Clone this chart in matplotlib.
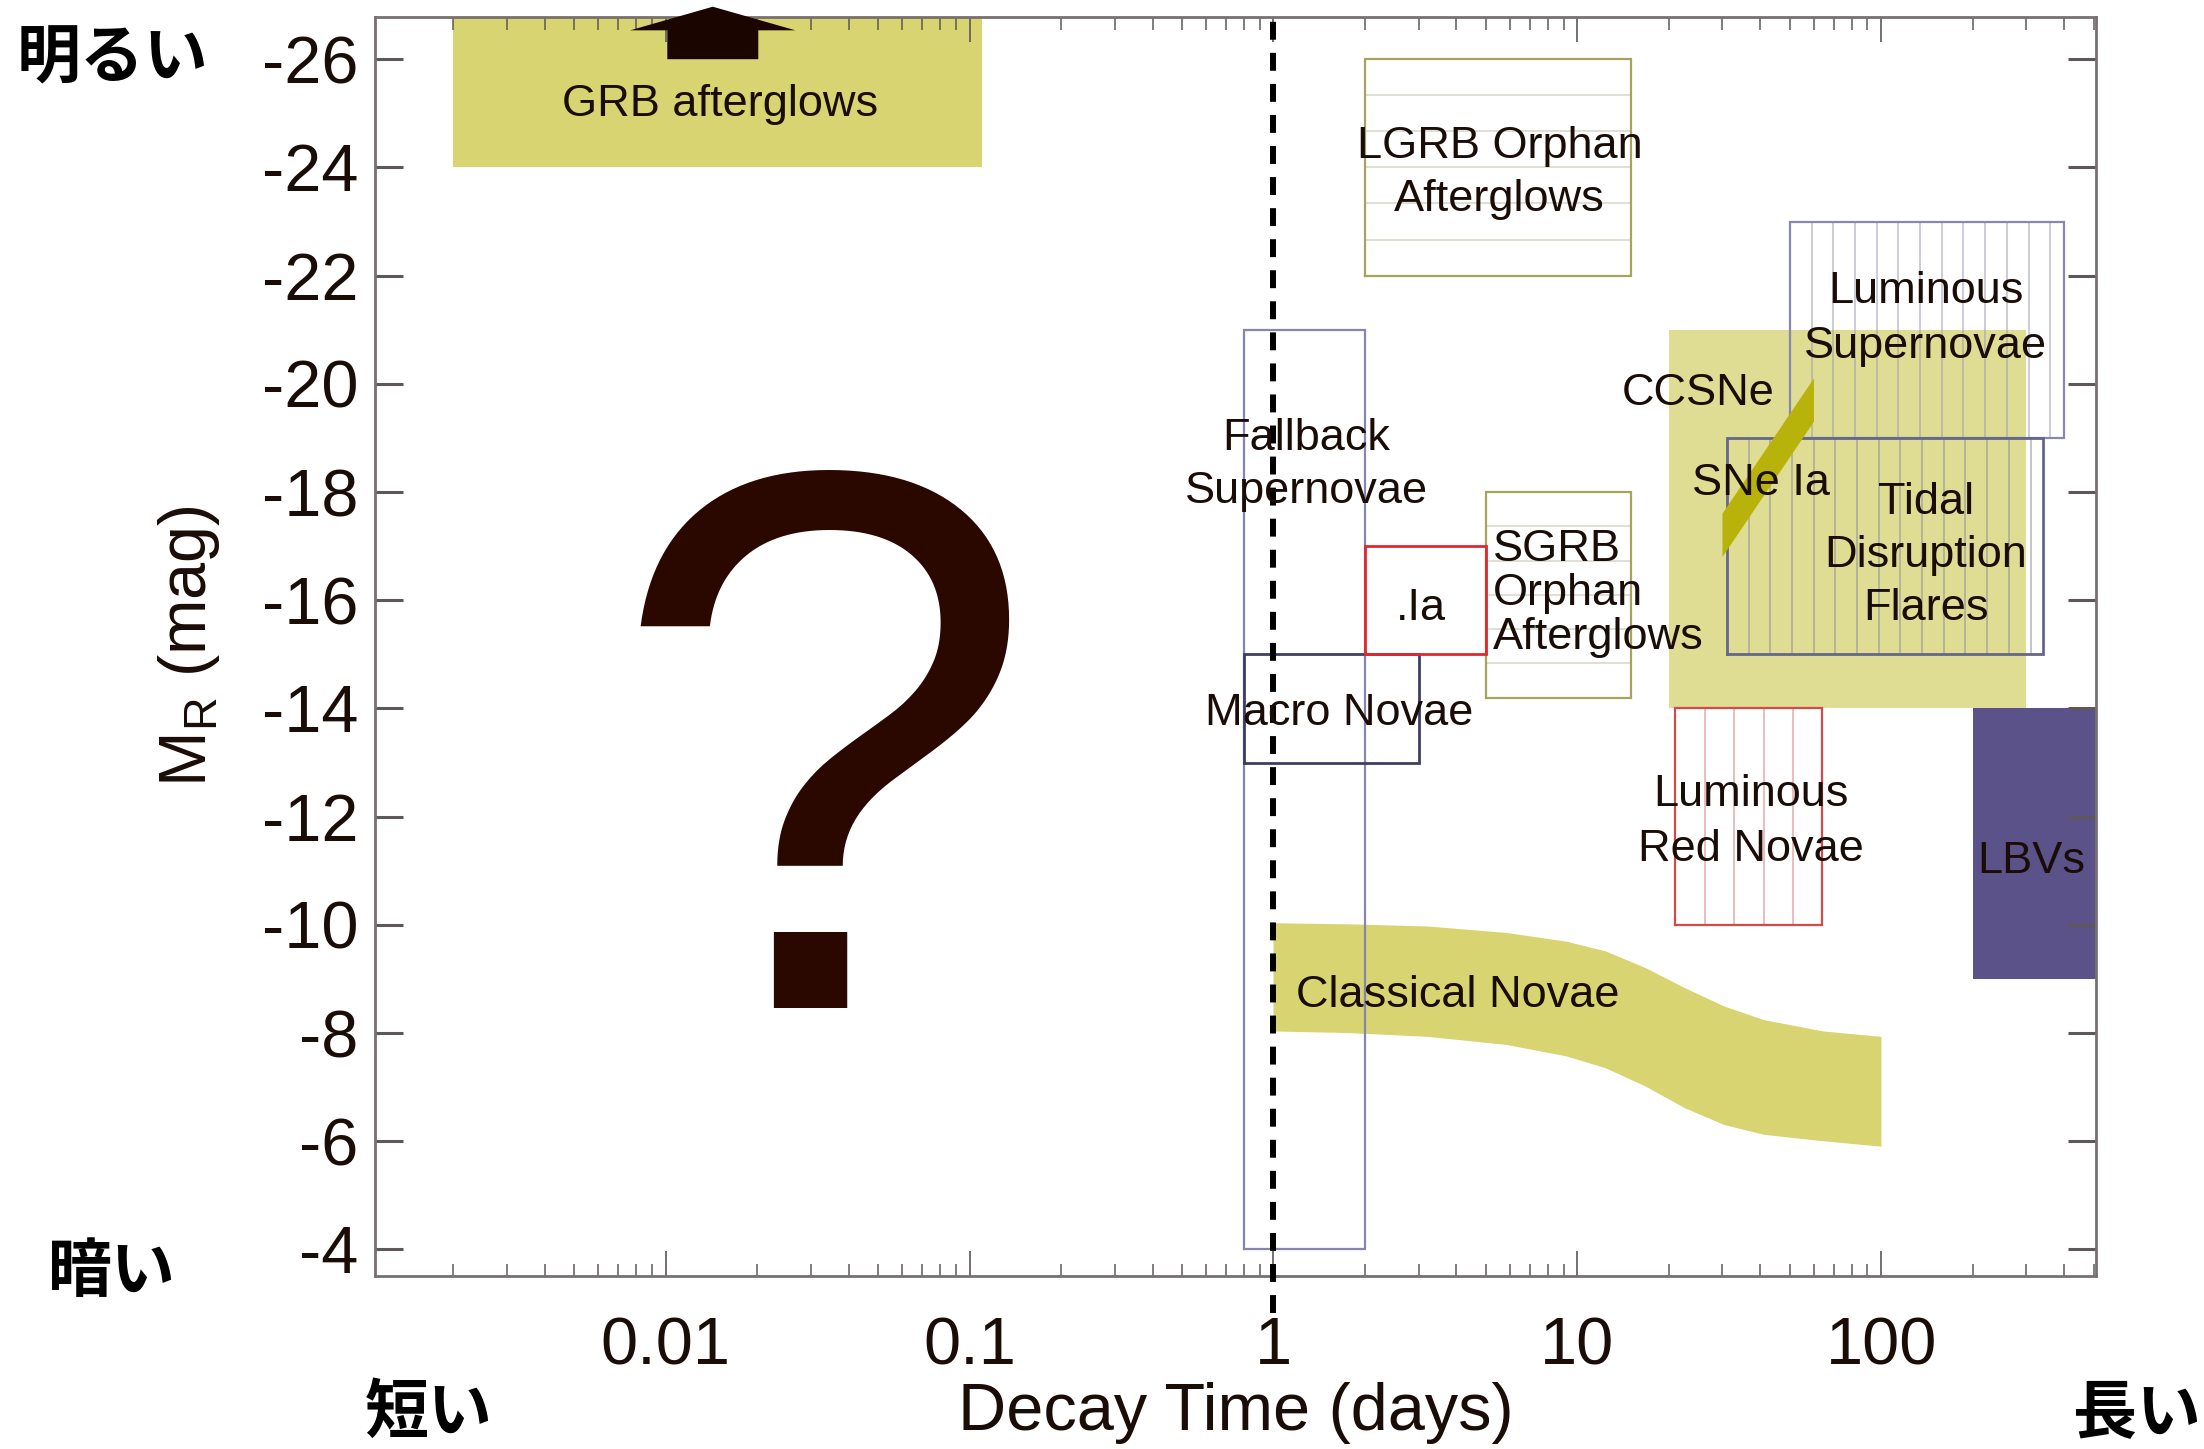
import numpy as np
import matplotlib
matplotlib.use("Agg")
import matplotlib.pyplot as plt

plt.rcParams['font.family'] = ['Liberation Sans', 'DejaVu Sans']
plt.rcParams['axes.unicode_minus'] = False
plt.rcParams['mathtext.fontset'] = 'custom'
plt.rcParams['mathtext.rm'] = 'Liberation Sans'

# ---------------- data: decay time (days) / absolute magnitude M_R ----------------
grb_t = [0.002, 0.11];      grb_m = [-24.0, -27.5]
ccsne_t = [20.0, 300.0];    ccsne_m = [-14.0, -21.0]
lbv_t = [200.0, 1000.0];    lbv_m = [-9.0, -14.0]
lgrb_t = [2.0, 15.0];       lgrb_m = [-22.0, -26.0]
sgrb_t = [5.0, 15.0];       sgrb_m = [-14.2, -18.0]
fallback_t = [0.8, 2.0];    fallback_m = [-4.0, -21.0]
dotia_t = [2.0, 5.0];       dotia_m = [-15.0, -17.0]
macro_t = [0.8, 3.0];       macro_m = [-13.0, -15.0]
lumsn_t = [50.0, 400.0];    lumsn_m = [-19.0, -23.0]
tdf_t = [31.0, 340.0];      tdf_m = [-15.0, -19.0]
lrn_t = [21.0, 64.0];       lrn_m = [-10.0, -14.0]
snia_t = [30.0, 60.0, 60.0, 30.0]
snia_m = [-17.6, -20.1, -19.3, -16.8]
cn_t = [1.0, 1.77, 3.22, 5.86, 9.2, 12.4, 16.8, 22.6, 30.5, 41.1, 64.5, 100.0]
cn_top_m = [-10.03, -10.01, -9.97, -9.85, -9.69, -9.51, -9.20, -8.83, -8.49, -8.24, -8.03, -7.93]
cn_bot_m = [-8.03, -8.0, -7.93, -7.78, -7.57, -7.35, -7.01, -6.61, -6.30, -6.12, -6.0, -5.90]
grb_arrow_t = 0.0143; grb_arrow_m = [-26.0, -26.97]
boundary_t = 1.0

yticks = [-26, -24, -22, -20, -18, -16, -14, -12, -10, -8, -6, -4]
xticks = [0.01, 0.1, 1, 10, 100]
xticklabels = ['0.01', '0.1', '1', '10', '100']

labels = [
    ("GRB afterglows", 0.01507, -25.17, 'center', 1.38),
    ("LGRB Orphan\nAfterglows", 5.55, -23.9, 'center', 1.38),
    ("Luminous\nSupernovae", 139.7, -21.2, 'center', 1.42),
    ("CCSNe", 24.9, -19.82, 'center', 1.38),
    ("Fallback\nSupernovae", 1.28, -18.5, 'center', 1.38),
    ("SNe Ia", 40.2, -18.15, 'center', 1.38),
    ("Tidal\nDisruption\nFlares", 140.0, -16.83, 'center', 1.38),
    ("SGRB\nOrphan\nAfterglows", 5.26, -16.12, 'left', 1.09),
    (".Ia", 3.06, -15.84, 'center', 1.38),
    ("Macro Novae", 1.65, -13.9, 'center', 1.38),
    ("Luminous\nRed Novae", 37.3, -11.9, 'center', 1.42),
    ("LBVs", 310.0, -11.17, 'center', 1.38),
    ("Classical Novae", 4.03, -8.7, 'center', 1.38),
]

TXT = '#1a0d08'
YEL = '#d7d471'
YEL_L = '#dfdc94'

fig = plt.figure(figsize=(22.04, 14.49), dpi=100)
ax = fig.add_axes([375/2204, 1-1276/1449, (2096-375)/2204, (1276-17)/1449])
ax.set_xscale('log')
ax.set_xlim(10**-2.956, 10**2.706)
ax.set_ylim(-3.51, -26.78)


def rect_fill(t, m, color, z=1):
    ax.fill([t[0], t[1], t[1], t[0]], [m[0], m[0], m[1], m[1]],
            color=color, lw=0, zorder=z)


def rect_edge(t, m, color, lw=1.6, z=3):
    ax.plot([t[0], t[1], t[1], t[0], t[0]], [m[0], m[0], m[1], m[1], m[0]],
            color=color, lw=lw, zorder=z, solid_joinstyle='miter')


def hlines(t, m, n, color):
    for y in np.linspace(m[0], m[1], n + 1)[1:-1]:
        ax.plot(t, [y, y], color=color, lw=1.3, zorder=2)


def vlines_step(t, m, step, color, alpha=1.0):
    lt = np.arange(np.log10(t[0]) + step, np.log10(t[1]) - step * 0.3, step)
    for x in 10**lt:
        ax.plot([x, x], m, color=color, lw=1.3, zorder=2, alpha=alpha)


# filled regions
rect_fill(ccsne_t, ccsne_m, YEL_L)
rect_fill(grb_t, grb_m, YEL)
rect_fill(lbv_t, lbv_m, '#5a5289')
ax.fill(np.r_[cn_t, cn_t[::-1]], np.r_[cn_top_m, cn_bot_m[::-1]],
        color=YEL, lw=0, zorder=1)

# hatched boxes
hlines(lgrb_t, lgrb_m, 6, '#dcdcd0')
hlines(sgrb_t, sgrb_m, 6, '#dcdcd0')
step = 21.7 / 304.0
vlines_step(lumsn_t, lumsn_m, step, '#9c9cb4', 0.55)
vlines_step(tdf_t, tdf_m, step, '#8c8c9c', 0.55)
for x in np.geomspace(lrn_t[0], lrn_t[1], 6)[1:-1]:
    ax.plot([x, x], lrn_m, color='#e8b8b8', lw=1.3, zorder=2)

rect_edge(lgrb_t, lgrb_m, '#a4a45c')
rect_edge(sgrb_t, sgrb_m, '#a4a45c')
rect_edge(fallback_t, fallback_m, '#8585ad')
rect_edge(lumsn_t, lumsn_m, '#8888ae')
rect_edge(tdf_t, tdf_m, '#66668a', lw=2.0)
rect_edge(macro_t, macro_m, '#3e3e5e', lw=2.0)
rect_edge(dotia_t, dotia_m, '#e0282e', lw=2.0)
rect_edge(lrn_t, lrn_m, '#d24a4a', lw=1.6)

# SNe Ia band
ax.fill(snia_t, snia_m, color='#b8b30a', lw=0, zorder=4)

# dashed line at 1 day
ax.axvline(boundary_t, ymin=-0.029, ymax=1.0, color='black', lw=4.3,
           linestyle=(0, (3.0, 2.2)), zorder=5, clip_on=False)

# GRB arrow
ax.annotate('', xy=(grb_arrow_t, grb_arrow_m[1]), xytext=(grb_arrow_t, grb_arrow_m[0]),
            xycoords='data', textcoords='data', annotation_clip=False,
            arrowprops=dict(arrowstyle='simple,head_length=0.17,head_width=1.19,tail_width=0.655',
                            mutation_scale=100, fc='#1a0500', ec='none',
                            shrinkA=0, shrinkB=0), zorder=6)

# big question mark
ax.text(0.033, -8.46, '?', fontsize=555, color='#2a0800', ha='center', va='baseline',
        zorder=6)

for s, x, y, ha, ls in labels:
    ax.text(x, y, s, fontsize=32.5, color=TXT, ha=ha, va='center',
            multialignment='center' if ha == 'center' else 'left',
            linespacing=ls, zorder=7)

# axes styling
ax.set_yticks(yticks)
ax.set_yticklabels([str(v) for v in yticks])
ax.set_xticks(xticks)
ax.set_xticklabels(xticklabels)
ax.tick_params(which='both', direction='in', top=True, right=True, colors='#5e5858',
               labelcolor=TXT)
ax.tick_params(axis='y', which='major', length=20, width=2.2, labelsize=48, pad=12)
ax.tick_params(axis='x', which='major', length=18, width=1.2, labelsize=48, pad=29)
ax.tick_params(axis='x', which='minor', length=9, width=1.1)
ax.tick_params(axis='y', which='minor', length=0)
for sp in ax.spines.values():
    sp.set_color('#777070')
    sp.set_linewidth(2.0)

ax.set_xlabel('Decay Time (days)', fontsize=48, color=TXT)
ax.xaxis.set_label_coords(0.5, -0.109)
ax.xaxis.label.set_va('center')
ax.set_ylabel(r'M$_\mathrm{R}$ (mag)', fontsize=48, color=TXT)
ax.yaxis.set_label_coords(-0.089, 0.5)

jp = ['Noto Sans CJK JP', 'DejaVu Sans']
for s, fx, fy in [('明るい', 112, 59), ('暗い', 112, 1272),
                  ('短い', 429, 1413), ('長い', 2137, 1413)]:
    fig.text(fx/2204, 1-fy/1449, s, fontsize=46, fontweight='bold', family=jp,
             ha='center', va='center', color='black')

fig.savefig('out.png', dpi=100)
